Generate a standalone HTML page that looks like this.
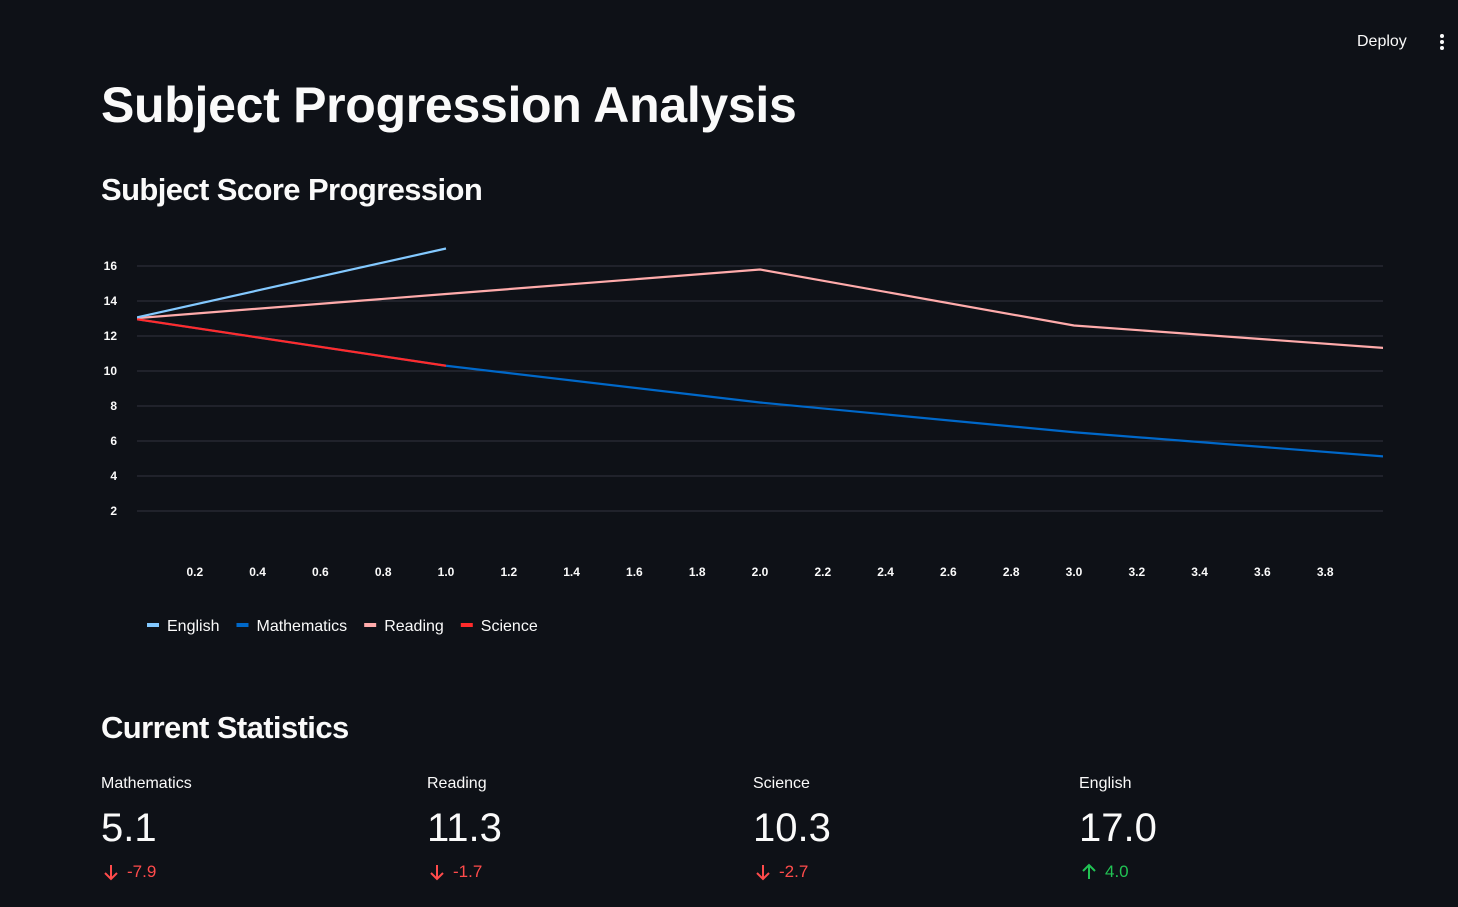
<!DOCTYPE html>
<html><head><meta charset="utf-8"><style>
body{margin:0;width:1458px;height:907px;background:#0e1117;color:#fafafa;font-family:"Liberation Sans",sans-serif;overflow:hidden;position:relative}
.abs{position:absolute}
h1{position:absolute;left:101px;top:76px;margin:0;font-size:50px;font-weight:700;letter-spacing:-0.3px}
h2{position:absolute;margin:0;font-size:31px;font-weight:700;letter-spacing:-0.6px}
.lab{font-size:16px}
.val{font-size:40px}
.dl{font-size:17px}
</style></head><body>
<div class="abs" style="left:1357px;top:33px;font-size:16px">Deploy</div>
<div class="abs" style="left:1440px;top:34px;width:4px">
<div style="width:4px;height:4px;border-radius:2px;background:#fafafa;margin-bottom:2px"></div>
<div style="width:4px;height:4px;border-radius:2px;background:#fafafa;margin-bottom:2px"></div>
<div style="width:4px;height:4px;border-radius:2px;background:#fafafa"></div></div>
<h1>Subject Progression Analysis</h1>
<h2 style="left:101px;top:172px">Subject Score Progression</h2>
<svg id="chart" class="abs" style="left:0;top:220px" width="1458" height="430"><defs><clipPath id="cp"><rect x="137" y="0" width="1246" height="340"/></clipPath></defs></svg>
<h2 style="left:101px;top:710px">Current Statistics</h2>
<div id="stats"></div>
<script>
const xs=[0,1,2,3,4];
const english=[13.0,17.0];
const mathematics=[13.0,10.3,8.2,6.5,5.1];
const reading=[13.0,14.4,15.8,12.6,11.3];
const science=[13.0,10.3];
const yTicks=[2,4,6,8,10,12,14,16];
const xTicks=[0.2,0.4,0.6,0.8,1.0,1.2,1.4,1.6,1.8,2.0,2.2,2.4,2.6,2.8,3.0,3.2,3.4,3.6,3.8];
const legendNames=["English","Mathematics","Reading","Science"];
const colors=["#83c9ff","#0068c9","#ffabab","#ff2b2b"];
const statNames=["Mathematics","Reading","Science","English"];
const statVals=["5.1","11.3","10.3","17.0"];
const statDeltas=[-7.9,-1.7,-2.7,4.0];
const OFF=220;
function X(v){return 132+314*v}
function Y(v){return 511-OFF-(v-2)*17.5}
const svg=document.getElementById('chart');const NS="http://www.w3.org/2000/svg";
function mk(t,a,p){const e=document.createElementNS(NS,t);for(const k in a)e.setAttribute(k,a[k]);(p||svg).appendChild(e);return e}
yTicks.forEach(t=>{const l=mk('line',{x1:137,x2:1383,y1:Y(t),y2:Y(t),stroke:'#31333f','stroke-width':1});


const tx=mk('text',{x:117,y:Y(t)+4,'text-anchor':'end',fill:'#fafafa','font-size':12,'font-weight':700});tx.textContent=t;

});
xTicks.forEach(t=>{const tx=mk('text',{x:X(t),y:356,'text-anchor':'middle',fill:'#fafafa','font-size':12,'font-weight':700});tx.textContent=t.toFixed(1);

});
const g=mk('g',{'clip-path':'url(#cp)'});
const series=[["english",english],["mathematics",mathematics],["reading",reading],["science",science]];
[1,2,3,0].forEach(i=>{const [n,d]=series[i];const p=mk('polyline',{points:d.map((v,j)=>X(xs[j])+','+Y(v)).join(' '),fill:'none',stroke:colors[i],'stroke-width':2.2},g);

});
let lx=147;
legendNames.forEach((n,i)=>{const r=mk('rect',{x:lx,y:403,width:12,height:4,fill:colors[i]});


const t=mk('text',{x:lx+20,y:411,fill:'#fafafa','font-size':16});t.textContent=n;


lx+=20+t.getComputedTextLength()+17;});
const st=document.getElementById('stats');
statNames.forEach((n,i)=>{const x=101+i*326;const d=statDeltas[i];const c=d<0?'#ff4b4b':'#21c354';
const arrow=d<0?'<path d="M9 2v14M3 10l6 6 6-6"/>':'<path d="M9 16V2M3 8l6-6 6 6"/>';
const box=document.createElement('div');box.className='abs';box.style.left=x+'px';box.style.top='772px';


box.innerHTML='<div class="lab" style="height:30px;line-height:24px">'+n+'</div><div class="val" style="line-height:52px">'+statVals[i]+'</div><div class="dl" style="color:'+c+';margin-top:8px;display:flex;align-items:center"><svg width="20" height="18" viewBox="0 0 18 18" fill="none" stroke="'+c+'" stroke-width="2">'+arrow+'</svg><span style="margin-left:6px">'+d.toFixed(1)+'</span></div>';
st.appendChild(box);});
</script>
</body></html>
